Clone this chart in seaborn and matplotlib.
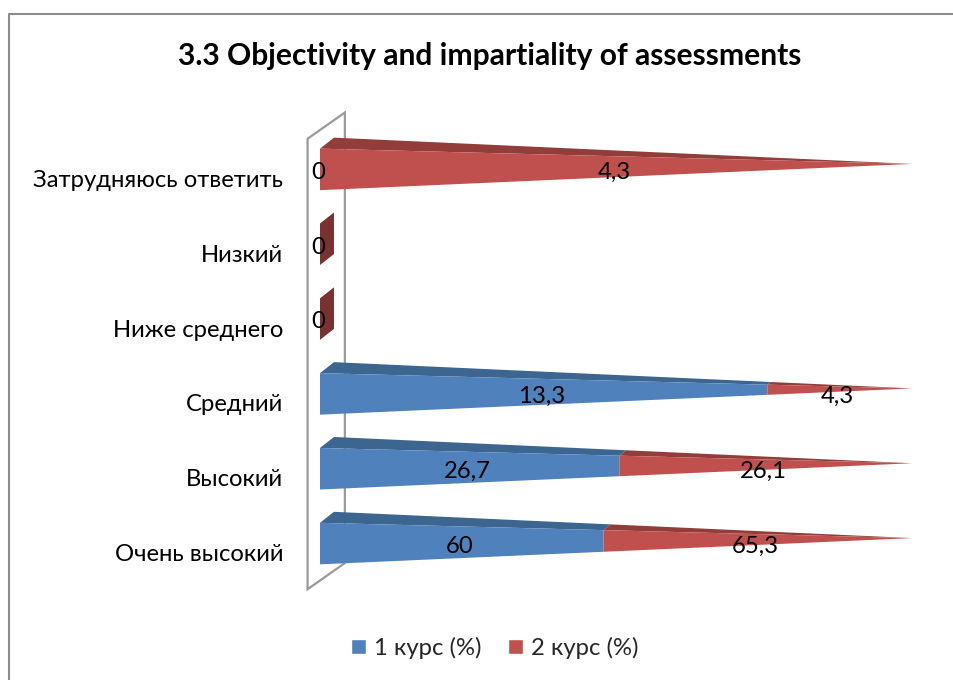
import numpy as np
import pandas as pd
import seaborn as sns
import matplotlib.pyplot as plt
from matplotlib.patches import Polygon, Patch
from matplotlib.transforms import ScaledTranslation

categories = ['Затрудняюсь ответить', 'Низкий', 'Ниже среднего', 'Средний', 'Высокий', 'Очень высокий']
course_1 = [0, 0, 0, 13.3, 26.7, 60]
course_2 = [4.3, 0, 0, 4.3, 26.1, 65.3]
label_1 = ['0', None, None, '13,3', '26,7', '60']
label_2 = ['4,3', '0', '0', '4,3', '26,1', '65,3']
series_names = ['1 курс (%)', '2 курс (%)']

BLUE, BLUE_DARK = '#4f81bd', '#3c6690'
RED, RED_DARK = '#c0504d', '#933d3b'
RED_SIDE = '#7a3230'
GREY = '#9a9a9a'

W, H = 954, 680
BAR_H = 0.555
DEPTH_X = 2.36   # 3d offset in percent
DEPTH_Y = 0.147  # 3d offset in rows
FONT_SIZE = 17.2

sns.set_theme(style='white')
plt.rcParams['font.family'] = ['Lato', 'Roboto', 'DejaVu Sans']

# 100% stacked shares
c1 = np.array(course_1)
c2 = np.array(course_2)
total = c1 + c2
share_1 = np.divide(c1, total, out=np.zeros(6), where=total > 0) * 100
share_2 = np.divide(c2, total, out=np.zeros(6), where=total > 0) * 100

df = pd.DataFrame({'cat': categories * 2,
                   'end': list(share_1) + list(share_1 + share_2),
                   'course': ['1'] * 6 + ['2'] * 6})

fig = plt.figure(figsize=(W / 100, H / 100), dpi=100, facecolor='white')
ax = fig.add_axes([320 / W, 1 - 581 / H, 592 / W, 449 / H])
sns.barplot(data=df, y='cat', x='end', hue='course', dodge=False, order=categories,
            hue_order=['2', '1'], palette={'1': BLUE, '2': RED}, width=BAR_H,
            legend=False, ax=ax, errorbar=None)
ax.set_xlim(0, 100)
ax.set_ylim(5.5, -0.5)
ax.set_xlabel('')
ax.set_ylabel('')
ax.set_xticks([])
sns.despine(ax=ax, left=True, bottom=True)
ax.tick_params(axis='y', length=0, pad=26.6, labelsize=FONT_SIZE, labelcolor='black')
for lab in ax.get_yticklabels():
    lab.set_transform(lab.get_transform() + ScaledTranslation(0, -9 / 100, fig.dpi_scale_trans))

# the wall behind the bars
wall = Polygon([(-2.1, -0.41), (4.2, -0.76), (4.2, 5.26), (-2.1, 5.61)], closed=True, fill=False,
               edgecolor=GREY, lw=1.6, clip_on=False, zorder=1)
ax.add_patch(wall)


def pyramid_at(x, y):
    # half height left at percent x, centre line drifts to the apex
    frac = 1 - x / 100
    apex_y = y - DEPTH_Y / 2
    top = apex_y + (y - BAR_H / 2 - apex_y) * frac
    bottom = apex_y + (y + BAR_H / 2 - apex_y) * frac
    back_top = apex_y + (y - BAR_H / 2 - DEPTH_Y - apex_y) * frac
    return top, bottom, back_top, DEPTH_X * frac


def draw_segment(x0, x1, y, face, dark):
    t0, b0, bt0, dx0 = pyramid_at(x0, y)
    t1, b1, bt1, dx1 = pyramid_at(x1, y)
    ax.add_patch(Polygon([(x0, t0), (x0 + dx0, bt0), (x1 + dx1, bt1), (x1, t1)], closed=True,
                         fc=dark, ec='none', clip_on=False, zorder=3))
    ax.add_patch(Polygon([(x0, t0), (x1, t1), (x1, b1), (x0, b0)], closed=True,
                         fc=face, ec='none', clip_on=False, zorder=4))


# bars from seaborn give the geometry, tapered faces get drawn over them
for bar in ax.patches:
    if bar is not wall:
        bar.set_visible(False)

for i in range(len(categories)):
    if total[i] == 0:
        t, b, bt, dx = pyramid_at(0, i)
        ax.add_patch(Polygon([(0, t), (dx, bt), (dx, bt + BAR_H), (0, b)], closed=True,
                             fc=RED_SIDE, ec='none', clip_on=False, zorder=3))
        continue
    if share_1[i] > 0:
        draw_segment(0, share_1[i], i, BLUE, BLUE_DARK)
    draw_segment(share_1[i], 100, i, RED, RED_DARK)

# data labels, centred on the segments
for i in range(len(categories)):
    ax.annotate(label_2[i], (share_1[i] + share_2[i] / 2, i), xytext=(-1.5, -2), textcoords='offset points',
                ha='center', va='center', fontsize=FONT_SIZE, color='black', zorder=6, annotation_clip=False)
    if label_1[i] is not None:
        ax.annotate(label_1[i], (share_1[i] / 2, i), xytext=(-1.5, -2), textcoords='offset points',
                    ha='center', va='center', fontsize=FONT_SIZE, color='black', zorder=6, annotation_clip=False)

fig.text(490 / W, 1 - 56 / H, '3.3 Objectivity and impartiality of assessments',
         ha='center', va='center', fontsize=21.6, fontweight='bold', color='black')

handles = [Patch(fc=BLUE, label=series_names[0]), Patch(fc=RED, label=series_names[1])]
fig.legend(handles=handles, loc='center', bbox_to_anchor=(495 / W, 1 - 648 / H), ncol=2, frameon=False,
           fontsize=FONT_SIZE, handlelength=0.62, handleheight=0.62, handletextpad=0.33, columnspacing=1.13,
           borderpad=0)

fig.add_artist(plt.Line2D([9.5 / W, 9.5 / W, 1], [0, 1 - 13.5 / H, 1 - 13.5 / H], color='#8c8c8c', lw=1.5))

fig.savefig('out.png', dpi=100)
